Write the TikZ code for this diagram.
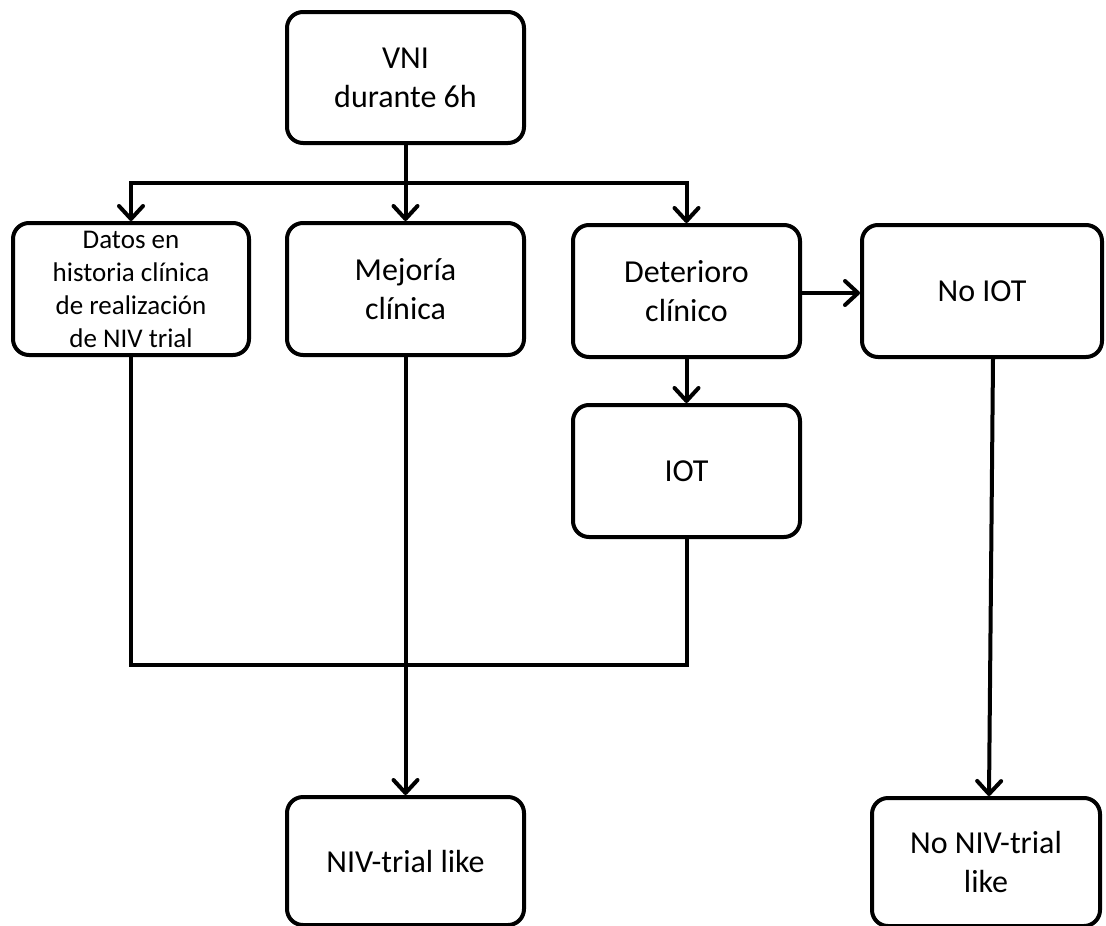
\documentclass[tikz,border=0pt]{standalone}
\usepackage{fontspec}
\setmainfont{Carlito}
\usetikzlibrary{arrows.meta,calc}

\begin{document}
\begin{tikzpicture}[x=1pt,y=-1pt,
  line width=4pt,
  box/.style={draw, rounded corners=16pt, inner sep=0pt, align=center,
              font=\fontsize{32}{39}\selectfont},
  smalltext/.style={font=\fontsize{27}{33}\selectfont},
  flow/.style={-{Straight Barb[length=13pt,width=24pt,round]}},
  link/.style={line join=miter}
]
\useasboundingbox (0,0) rectangle (1106,926);

% boxes
\node[box, minimum width=237pt, minimum height=131pt] (vni) at (405.5,77.5) {VNI\\durante 6h};
\node[box, smalltext, minimum width=236pt, minimum height=132pt] (datos) at (131,289)
  {Datos en\\historia clínica\\de realización\\de NIV trial};
\node[box, minimum width=237pt, minimum height=132pt] (mej) at (405.5,289) {Mejoría\\clínica};
\node[box, minimum width=227pt, minimum height=132pt] (det) at (686.5,291) {Deterioro\\clínico};
\node[box, minimum width=240pt, minimum height=132pt] (noiot) at (982,291) {No IOT};
\node[box, minimum width=227pt, minimum height=132pt] (iot) at (686.5,471) {IOT};
\node[box, minimum width=237pt, minimum height=128pt] (niv) at (405.5,861) {NIV-trial like};
\node[box, minimum width=228pt, minimum height=128pt] (noniv) at (986,862) {No NIV-trial\\like};

% branching from the top box
\coordinate (split) at (vni.south |- 0,183);
\draw[flow] (vni.south) -- (mej.north);
\draw[flow, link] (split) -| (datos.north);
\draw[flow, link] (split) -| (det.north);

% deterioration branches
\draw[flow] (det.east |- 0,293) -- (noiot.west |- 0,293);
\draw[flow] (det.south) -- (iot.north);

% joined paths to the outcome boxes
\coordinate (joinL) at (datos.south |- 0,665);
\draw[link] (datos.south) -- (joinL) -| (iot.south);
\draw[flow] (mej.south) -- (niv.north);
\draw[flow] ($(noiot.south)+(11,0)$) -- ($(noniv.north)+(3,0)$);
\end{tikzpicture}
\end{document}
